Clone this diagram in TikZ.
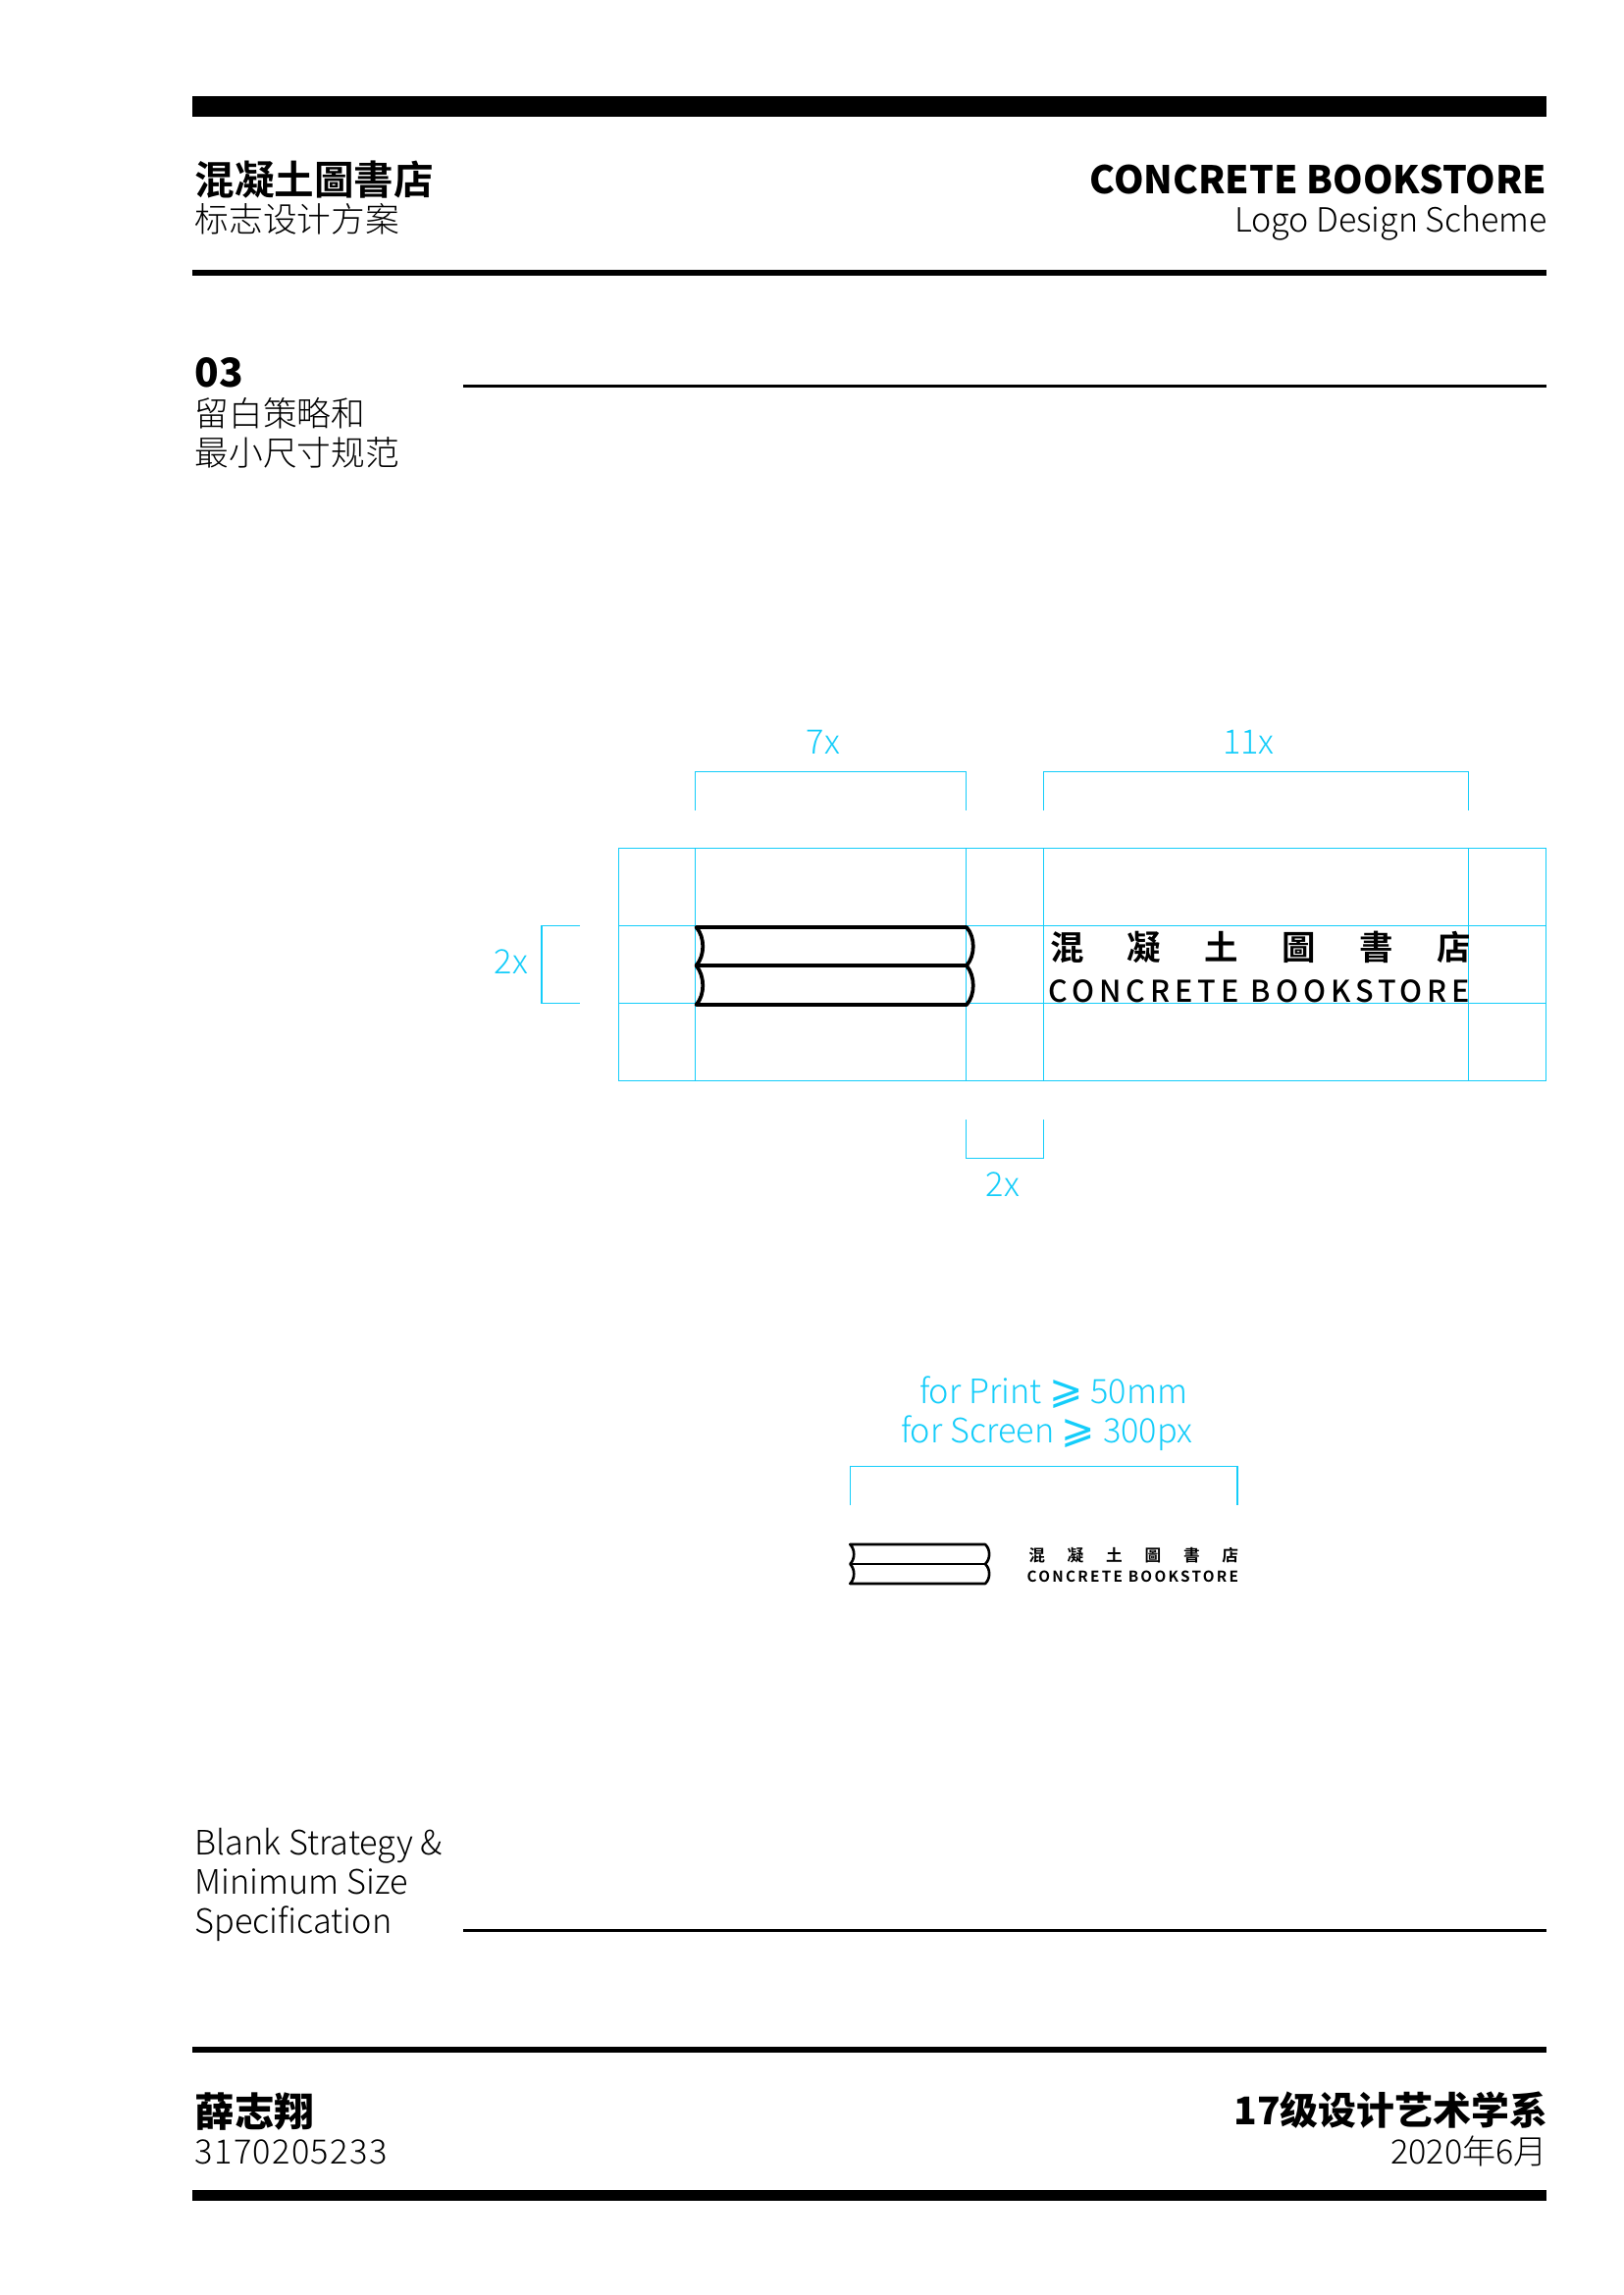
\documentclass[tikz,border=0pt]{standalone}
\usepackage{fontspec}
\setmainfont{Noto Sans CJK SC Light}[BoldFont={Noto Sans CJK SC Black}]
\newfontfamily\tcfont{Noto Sans CJK TC Medium}[BoldFont={Noto Sans CJK TC Bold}]
\newfontfamily\tcheavy{Noto Sans CJK TC Black}
\newfontfamily\latinbold{Noto Sans CJK SC Bold}
\newfontfamily\latinmedium{Noto Sans CJK SC Medium}
\newfontfamily\symfont{DejaVu Sans}[Scale=1.2]
\definecolor{guide}{RGB}{20,205,250}
\tikzset{
  guideline/.style={guide, line width=0.55pt},
  logoline/.style={black, line width=1.35pt, line join=round},
  smallline/.style={black, line width=0.95pt, line join=round},
  heavytext/.style={inner sep=0pt, font=\fontsize{14.6}{15}\selectfont\bfseries},
  heavyright/.style={inner sep=0pt, anchor=base east, font=\fontsize{14}{15}\selectfont\bfseries},
  lighttext/.style={inner sep=0pt, font=\fontsize{12.5}{13}\selectfont},
  lightlatin/.style={inner sep=0pt, font=\fontsize{12.35}{13}\selectfont},
  guidetext/.style={inner sep=0pt, text=guide, font=\fontsize{12.35}{13}\selectfont}
}
\begin{document}
\begin{tikzpicture}[x=0.36pt, y=-0.36pt]
                \useasboundingbox (0,0) rectangle (1654,2339);
                \fill[white] (0,0) rectangle (1654,2339);

                % rules
                \fill (196,98) rectangle (1576,119);
                \fill (196,275) rectangle (1576,281);
                \fill (196,2086) rectangle (1576,2092);
                \fill (196,2232) rectangle (1576,2243);
                \draw[line width=1.05pt] (472,393.5) -- (1576,393.5);
                \draw[line width=1.05pt] (472,1967.5) -- (1576,1967.5);

                % header and footer
                \node[heavytext, anchor=base west] (TitleCN) at (198,198) {\tcheavy 混凝土圖書店};
                \node[lighttext, anchor=base west] (TitleSub) at (198,236.5) {标志设计方案};
                \node[heavyright] (TitleEN) at (1577,197) {CONCRETE BOOKSTORE};
                \node[inner sep=0pt, anchor=base east, font=\fontsize{12.25}{13}\selectfont] (SubEN) at (1577.5,236) {Logo Design Scheme};
                \node[heavytext, anchor=base west] (Num) at (198,394) {03};
                \node[lighttext, anchor=base west] (SecA) at (198,434) {留白策略和};
                \node[lighttext, anchor=base west] (SecB) at (198,474) {最小尺寸规范};
                \node[lightlatin, anchor=base west] (EnA) at (198,1890) {Blank Strategy \&};
                \node[lightlatin, anchor=base west] (EnB) at (198,1930) {Minimum Size};
                \node[lightlatin, anchor=base west] (EnC) at (198,1970) {Specification};
                \node[heavytext, anchor=base west] (Name) at (198,2167) {薛志翔};
                \node[lightlatin, anchor=base west] (Id) at (198,2205) {\addfontfeature{LetterSpace=4}3170205233};
                \node[heavyright] (Dept) at (1577.5,2165.5) {17级设计艺术学系};
                \node[inner sep=0pt, anchor=base east, font=\fontsize{12.3}{13}\selectfont] (Date) at (1577.5,2205) {2020年6月};

                % clear space grid
                \draw[guideline] (630.7,864.5) rectangle (1575.7,1101.3);
                \foreach \gx in {708.3,984.7,1063.7,1496.3}
                    \draw[guideline] (\gx,864.5) -- (\gx,1101.3);
                \foreach \gy in {943.3,1022.3}
                    \draw[guideline] (630.7,\gy) -- (1575.7,\gy);

                % brackets
                \draw[guideline] (708.3,826) -- (708.3,786.5) -- (984.7,786.5) -- (984.7,826);
                \draw[guideline] (1063.7,826) -- (1063.7,786.5) -- (1496.3,786.5) -- (1496.3,826);
                \draw[guideline] (591,943.3) -- (552,943.3) -- (552,1022.3) -- (591,1022.3);
                \draw[guideline] (984.7,1141) -- (984.7,1180.5) -- (1063.7,1180.5) -- (1063.7,1141);
                \draw[guideline] (866.3,1534) -- (866.3,1494.7) -- (1261,1494.7) -- (1261,1534);

                \node[guidetext] (SevenX) at (839,756.5) {7x};
                \node[guidetext] (ElevenX) at (1272.5,756.5) {11x};
                \node[guidetext] (TwoXa) at (521,980.5) {2x};
                \node[guidetext] (TwoXb) at (1022,1207.5) {2x};
                \node[guidetext, anchor=base west] (Print) at (936.5,1430) {for Print {\symfont ⩾} 50mm};
                \node[guidetext, anchor=base west] (Screen) at (917.5,1470) {for Screen {\symfont ⩾} 300px};

                % large logo
                \draw[logoline] (709.5,945) -- (985,945) .. controls (994,955) and (994,974) .. (985,984)
                    .. controls (994,995) and (994,1014) .. (985,1024) -- (709.5,1024)
                    .. controls (718.5,1014) and (718.5,995) .. (709.5,984)
                    .. controls (718.5,974) and (718.5,955) .. (709.5,945) -- cycle;
                \draw[logoline] (709.5,984) -- (985,984);
                \node[inner sep=0pt, anchor=base west, font=\fontsize{12.4}{13}\selectfont\bfseries] (LogoCN) at (1069.5,978) {\tcfont 混\hspace{16pt}凝\hspace{16pt}土\hspace{16pt}圖\hspace{16pt}書\hspace{16pt}店};
                \node[inner sep=0pt, anchor=base west, font=\fontsize{11}{12}\selectfont\latinmedium\addfontfeature{LetterSpace=16.4}] (LogoEN) at (1068,1021.5) {CONCRETE BOOKSTORE};

                % small logo
                \draw[smallline] (866.3,1574) -- (1004,1574) .. controls (1009.5,1579) and (1009.5,1589) .. (1004,1594)
                    .. controls (1009.5,1599) and (1009.5,1609) .. (1004,1614) -- (866.3,1614)
                    .. controls (871.5,1609) and (871.5,1599) .. (866.3,1594)
                    .. controls (871.5,1589) and (871.5,1579) .. (866.3,1574) -- cycle;
                \draw[smallline] (866.3,1594) -- (1004,1594);
                \node[inner sep=0pt, anchor=base west, font=\fontsize{6}{7}\selectfont\bfseries] (SmallCN) at (1047.7,1591) {\tcheavy 混\hspace{8.2pt}凝\hspace{8.2pt}土\hspace{8.2pt}圖\hspace{8.2pt}書\hspace{8.2pt}店};
                \node[inner sep=0pt, anchor=base west, font=\fontsize{5.5}{6}\selectfont\latinbold\addfontfeature{LetterSpace=15}] (SmallEN) at (1046,1612) {CONCRETE BOOKSTORE};
            \end{tikzpicture}
\end{document}
